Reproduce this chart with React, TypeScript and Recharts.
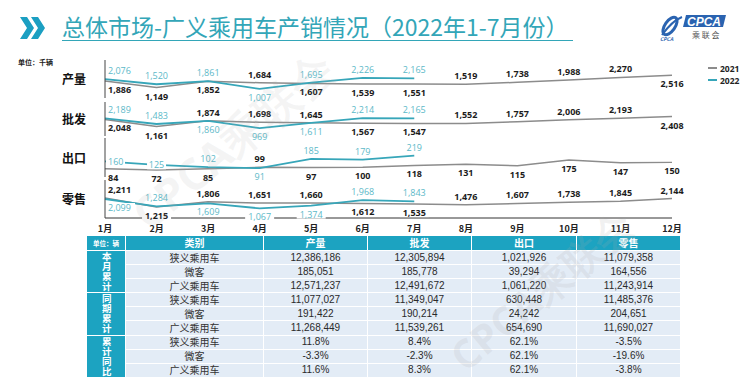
import React from 'react';
import { LineChart, Line, XAxis, YAxis, LabelList } from 'recharts';

// 千辆
const months = ['1月', '2月', '3月', '4月', '5月', '6月', '7月', '8月', '9月', '10月', '11月', '12月'];
const prod2021 = [1886, 1149, 1852, 1684, 1607, 1539, 1551, 1519, 1738, 1988, 2270, 2516];
const prod2022 = [2076, 1520, 1861, 1007, 1695, 2226, 2165];
const whole2021 = [2048, 1161, 1874, 1698, 1645, 1567, 1547, 1552, 1757, 2006, 2193, 2408];
const whole2022 = [2189, 1483, 1860, 969, 1611, 2214, 2165];
const export2021 = [84, 72, 85, 99, 97, 100, 118, 131, 115, 175, 147, 150];
const export2022 = [160, 125, 102, 91, 185, 179, 219];
const retail2021 = [2211, 1215, 1806, 1651, 1660, 1612, 1535, 1476, 1607, 1738, 1845, 2144];
const retail2022 = [2099, 1284, 1609, 1067, 1374, 1968, 1843];

// 表格 (辆)
const tableCols = ['产量', '批发', '出口', '零售'];
const groupNames = ['本月累计', '同期累计', '累计同比'];
const rowNames = ['狭义乘用车', '微客', '广义乘用车'];
const cum2022 = [
  [12386186, 12305894, 1021926, 11079358],
  [185051, 185778, 39294, 164556],
  [12571237, 12491672, 1061220, 11243914],
];
const cum2021 = [
  [11077027, 11349047, 630448, 11485376],
  [191422, 190214, 24242, 204651],
  [11268449, 11539261, 654690, 11690027],
];
const cumYoY = [
  [11.8, 8.4, 62.1, -3.5],
  [-3.3, -2.3, 62.1, -19.6],
  [11.6, 8.3, 62.1, -3.8],
];

const C21 = '#8c8c8c';
const C22 = '#37a6b9';
const LABEL22 = '#5cb9c8';
const TEAL = '#1ca3c1';
const NUM_FONT = '"Open Sans", "DejaVu Sans", sans-serif';
const CJK = '"Noto Sans CJK SC", "Noto Sans", sans-serif';

type Side = 'up' | 'down' | 'on';

const panels = [
  { name: '产量', s21: prod2021, s22: prod2022, max: 4200, top: 60, h: 38, force: { '2021-11': 'down' } as Record<string, Side> },
  { name: '批发', s21: whole2021, s22: whole2022, max: 4200, top: 102, h: 34, force: { '2021-11': 'down' } as Record<string, Side> },
  {
    name: '出口', s21: export2021, s22: export2022, max: 400, top: 138, h: 39,
    force: { '2022-0': 'on', '2022-1': 'on', '2021-7': 'down', '2021-8': 'down', '2021-9': 'down', '2021-10': 'down', '2021-11': 'down' } as Record<string, Side>,
  },
  { name: '零售', s21: retail2021, s22: retail2022, max: 4200, top: 180, h: 38, force: {} as Record<string, Side> },
];

const makeLabel = (own: number[], other: number[], force: Record<string, Side>, year: string, boxBelow: boolean) => (p: any) => {
  const { x, y, value, index } = p;
  if (value == null || x == null) return null;
  const o = other[index];
  const side: Side = force[`${year}-${index}`] ?? (o == null || own[index] >= o ? 'up' : 'down');
  const text = Number(value).toLocaleString('en-US');
  const first = index === 0;
  const tx = first ? x + 3 : x;
  const ty = side === 'up' ? y - 8.5 : side === 'down' ? y + 8.5 : y;
  const is22 = year === '2022';
  const w = text.length * 5 + 4;
  const box = side === 'on' || (boxBelow && side === 'down');
  return (
    <g key={`${year}-${index}`}>
      {box && <rect x={first ? tx - 2 : tx - w / 2} y={ty - 4.5} width={w} height={9} fill="#fff" />}
      <text
        x={tx}
        y={ty}
        textAnchor={first ? 'start' : 'middle'}
        dominantBaseline="central"
        fontSize={9}
        fontFamily={NUM_FONT}
        fontWeight={is22 ? 400 : 700}
        fill={is22 ? LABEL22 : '#1c1c1c'}
      >
        {text}
      </text>
    </g>
  );
};

const Panel: React.FC<{ p: (typeof panels)[number]; last: boolean }> = ({ p, last }) => {
  const data = months.map((m, i) => ({ month: m, y21: p.s21[i], y22: p.s22[i] ?? null }));
  const mt = 12;
  const mb = last ? 0 : 12;
  const axisH = last ? 20 : 0;
  return (
    <div style={{ position: 'absolute', left: 0, top: p.top - mt }}>
      <LineChart width={744} height={mt + p.h + mb + axisH} data={data} margin={{ top: mt, right: 72, bottom: mb, left: 100 }}>
        <XAxis
          dataKey="month"
          scale="point"
          hide={!last}
          height={axisH}
          axisLine={{ stroke: '#333', strokeWidth: 1 }}
          tickLine={false}
          tickSize={4}
          tickMargin={4}
          interval={0}
          tick={{ fontSize: 9, fontWeight: 700, fill: '#222', fontFamily: CJK }}
        />
        <YAxis
          width={5}
          domain={[0, p.max]}
          ticks={[0, p.max]}
          tick={false}
          tickSize={3}
          axisLine={{ stroke: '#444' }}
          tickLine={{ stroke: '#444' }}
          allowDataOverflow
        />
        <Line dataKey="y21" stroke={C21} strokeWidth={1.5} dot={false} isAnimationActive={false}>
          <LabelList dataKey="y21" content={makeLabel(p.s21, p.s22, p.force, '2021', last)} />
        </Line>
        <Line dataKey="y22" stroke={C22} strokeWidth={1.8} dot={false} isAnimationActive={false}>
          <LabelList dataKey="y22" content={makeLabel(p.s22, p.s21, p.force, '2022', last)} />
        </Line>
      </LineChart>
      <div
        style={{
          position: 'absolute', left: 62, top: mt + p.h / 2 - 9, fontSize: 12, fontWeight: 700,
          fontFamily: CJK, color: '#111', lineHeight: '18px',
        }}
      >
        {p.name}
      </div>
    </div>
  );
};

const fmtNum = (v: number) => v.toLocaleString('en-US');
const fmtPct = (v: number) => `${v.toFixed(1)}%`;

const SummaryTable: React.FC = () => {
  const blocks = [
    { rows: cum2022, fmt: fmtNum },
    { rows: cum2021, fmt: fmtNum },
    { rows: cumYoY, fmt: fmtPct },
  ];
  const cells: React.ReactNode[] = [];
  const head: React.CSSProperties = {
    background: TEAL, color: '#fff', fontWeight: 700, fontSize: 10, display: 'flex', lineHeight: 1,
    alignItems: 'center', justifyContent: 'center', fontFamily: CJK, overflow: 'hidden',
  };
  cells.push(<div key="h0" style={{ ...head, fontSize: 6.5 }}>单位：辆</div>);
  cells.push(<div key="h1" style={head}>类别</div>);
  tableCols.forEach((c) => cells.push(<div key={`h-${c}`} style={head}>{c}</div>));
  blocks.forEach((b, gi) => {
    cells.push(
      <div key={`g${gi}`} style={{ ...head, gridRow: `${gi * 3 + 2} / span 3`, gridColumn: '1' }}>
        <span style={{ writingMode: 'vertical-rl', fontSize: 9.5, lineHeight: 1, letterSpacing: 0.3 }}>{groupNames[gi]}</span>
      </div>
    );
    b.rows.forEach((r, ri) => {
      const cell: React.CSSProperties = {
        background: '#e3ecf6', color: '#333', display: 'flex', alignItems: 'center', justifyContent: 'center',
        lineHeight: 1, overflow: 'hidden',
      };
      cells.push(
        <div key={`n${gi}-${ri}`} style={{ ...cell, gridRow: gi * 3 + ri + 2, gridColumn: 2, fontFamily: CJK, fontSize: 10 }}>
          {rowNames[ri]}
        </div>
      );
      r.forEach((v, ci) => {
        cells.push(
          <div
            key={`v${gi}-${ri}-${ci}`}
            style={{
              ...cell, gridRow: gi * 3 + ri + 2, gridColumn: ci + 3,
              fontFamily: '"Liberation Sans Narrow", "Liberation Sans", sans-serif', fontSize: 10, color: '#2a2a2a',
            }}
          >
            {b.fmt(v)}
          </div>
        );
      });
    });
  });
  return (
    <div
      style={{
        position: 'absolute', left: 87, top: 236, width: 588, height: 142, display: 'grid',
        gridTemplateColumns: '38px 137px 103px 103px 104px 103px',
        gridTemplateRows: '14px repeat(9, 13.1px)', gap: 1, background: '#fff',
      }}
    >
      {cells}
    </div>
  );
};

const App: React.FC = () => {
  return (
    <div style={{ position: 'absolute', left: 0, top: 0, width: 744, height: 388, background: '#fff', overflow: 'hidden', fontFamily: CJK }}>
      {/* 标题 */}
      <svg style={{ position: 'absolute', left: 20, top: 17 }} width={26} height={22}>
        <polygon points="0,0 7,0 14,11 7,22 0,22 7,11" fill="#1b9fc2" />
        <polygon points="11,0 18,0 25,11 18,22 11,22 18,11" fill="#1b9fc2" />
      </svg>
      <div
        style={{
          position: 'absolute', left: 62, top: 12, fontSize: 23, color: '#33a6b8', lineHeight: '28px',
          borderBottom: '1.5px solid #33a6b8', whiteSpace: 'nowrap', paddingRight: 4,
        }}
      >
        总体市场-广义乘用车产销情况（2022年1-7月份）
      </div>
      {/* logo */}
      <svg style={{ position: 'absolute', left: 658, top: 13 }} width={70} height={30}>
        <ellipse cx={12} cy={13} rx={5} ry={10} fill="none" stroke="#2a63b0" strokeWidth={3} transform="rotate(35 12 13)" />
        <path d="M4 22 Q14 8 24 4" stroke="#2a63b0" strokeWidth={2} fill="none" />
        <text x={2} y={28} fontSize={5} fill="#2a63b0" fontStyle="italic" fontWeight={700}>CPCA</text>
        <polygon points="28,2 68,2 65,14 25,14" fill="#2a63b0" />
        <text x={29} y={12.5} fontSize={12} fontWeight={700} fontStyle="italic" fill="#fff" fontFamily="'Liberation Sans', sans-serif">CPCA</text>
        <text x={34} y={25} fontSize={8} fill="#555">乘 联 会</text>
      </svg>

      <div style={{ position: 'absolute', left: 18, top: 57, fontSize: 7, fontWeight: 700, color: '#222' }}>单位：千辆</div>

      {/* 图例 */}
      {[
        { y: 68, c: C21, t: '2021' },
        { y: 80, c: C22, t: '2022' },
      ].map((l) => (
        <div key={l.t} style={{ position: 'absolute', left: 708, top: l.y - 6, height: 12, display: 'flex', alignItems: 'center' }}>
          <div style={{ width: 9, height: 1.5, background: l.c, marginRight: 3 }} />
          <span style={{ fontSize: 8.5, fontWeight: 700, color: '#222', fontFamily: NUM_FONT }}>{l.t}</span>
        </div>
      ))}

      {panels.map((p, i) => (
        <Panel key={p.name} p={p} last={i === panels.length - 1} />
      ))}

      <SummaryTable />

      {/* 水印 */}
      <div
        style={{
          position: 'absolute', left: 110, top: 110, fontSize: 44, fontWeight: 700, color: 'rgba(170,170,170,0.13)',
          transform: 'rotate(-40deg)', whiteSpace: 'nowrap', pointerEvents: 'none', fontFamily: NUM_FONT,
        }}
      >
        CPCA乘联会
      </div>
      <div
        style={{
          position: 'absolute', left: 430, top: 262, fontSize: 40, fontWeight: 700, color: 'rgba(170,170,170,0.16)',
          transform: 'rotate(-40deg)', whiteSpace: 'nowrap', pointerEvents: 'none', fontFamily: NUM_FONT,
        }}
      >
        CPCA乘联会
      </div>
    </div>
  );
};

export default App;
